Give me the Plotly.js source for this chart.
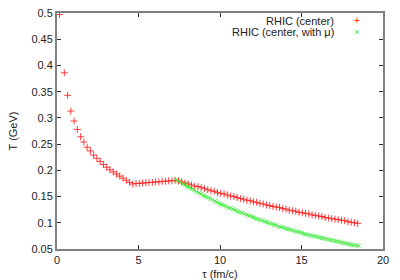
<!DOCTYPE html>
<html>
<head>
<meta charset="utf-8">
<script src="https://cdn.plot.ly/plotly-3.0.1.min.js"></script>
<style>html,body{margin:0;padding:0;background:#fff;}#chart{width:400px;height:280px;}</style>
</head>
<body>
<div id="chart"></div>
<script>
// RHIC (center): tau (fm/c) and T (GeV)
const tauCenter = [0.15, 0.45, 0.65, 0.85, 1.05, 1.25, 1.45, 1.65, 1.85, 2.05, 2.25, 2.45, 2.65, 2.85, 3.05, 3.25, 3.45, 3.65, 3.85, 4.05, 4.25, 4.45, 4.65, 4.85, 5.05, 5.25, 5.45, 5.65, 5.85, 6.05, 6.25, 6.45, 6.65, 6.85, 7.05, 7.25, 7.45, 7.65, 7.85, 8.05, 8.25, 8.45, 8.65, 8.85, 9.05, 9.25, 9.45, 9.65, 9.85, 10.05, 10.25, 10.45, 10.65, 10.85, 11.05, 11.25, 11.45, 11.65, 11.85, 12.05, 12.25, 12.45, 12.65, 12.85, 13.05, 13.25, 13.45, 13.65, 13.85, 14.05, 14.25, 14.45, 14.65, 14.85, 15.05, 15.25, 15.45, 15.65, 15.85, 16.05, 16.25, 16.45, 16.65, 16.85, 17.05, 17.25, 17.45, 17.65, 17.85, 18.05, 18.25, 18.45];
const tempCenter = [0.497, 0.386, 0.343, 0.313, 0.294, 0.278, 0.264, 0.254, 0.244, 0.237, 0.229, 0.223, 0.217, 0.211, 0.206, 0.201, 0.197, 0.193, 0.189, 0.185, 0.181, 0.177, 0.174, 0.175, 0.175, 0.176, 0.176, 0.177, 0.177, 0.178, 0.178, 0.179, 0.179, 0.180, 0.180, 0.181, 0.180, 0.178, 0.176, 0.174, 0.172, 0.170, 0.169, 0.167, 0.165, 0.163, 0.161, 0.160, 0.158, 0.156, 0.155, 0.153, 0.151, 0.150, 0.148, 0.146, 0.145, 0.143, 0.142, 0.140, 0.139, 0.137, 0.136, 0.134, 0.133, 0.131, 0.130, 0.129, 0.127, 0.126, 0.124, 0.123, 0.122, 0.120, 0.119, 0.118, 0.117, 0.115, 0.114, 0.113, 0.112, 0.110, 0.109, 0.108, 0.107, 0.106, 0.105, 0.104, 0.102, 0.101, 0.100, 0.099];

// RHIC (center, with mu)
const tauMu = [7.30, 7.44, 7.58, 7.72, 7.86, 8.00, 8.14, 8.28, 8.42, 8.56, 8.70, 8.84, 8.98, 9.12, 9.26, 9.40, 9.54, 9.68, 9.82, 9.96, 10.10, 10.24, 10.38, 10.52, 10.66, 10.80, 10.94, 11.08, 11.22, 11.36, 11.50, 11.64, 11.78, 11.92, 12.06, 12.20, 12.34, 12.48, 12.62, 12.76, 12.90, 13.04, 13.18, 13.32, 13.46, 13.60, 13.74, 13.88, 14.02, 14.16, 14.30, 14.44, 14.58, 14.72, 14.86, 15.00, 15.14, 15.28, 15.42, 15.56, 15.70, 15.84, 15.98, 16.12, 16.26, 16.40, 16.54, 16.68, 16.82, 16.96, 17.10, 17.24, 17.38, 17.52, 17.66, 17.80, 17.94, 18.08, 18.22, 18.36, 18.50];
const tempMu = [0.182, 0.179, 0.177, 0.174, 0.172, 0.169, 0.167, 0.164, 0.162, 0.159, 0.157, 0.155, 0.152, 0.150, 0.148, 0.146, 0.144, 0.141, 0.139, 0.137, 0.135, 0.133, 0.131, 0.129, 0.128, 0.126, 0.124, 0.122, 0.120, 0.119, 0.117, 0.115, 0.113, 0.112, 0.110, 0.108, 0.107, 0.105, 0.104, 0.102, 0.101, 0.099, 0.098, 0.096, 0.095, 0.093, 0.092, 0.091, 0.089, 0.088, 0.087, 0.086, 0.084, 0.083, 0.082, 0.081, 0.079, 0.078, 0.077, 0.076, 0.075, 0.074, 0.073, 0.072, 0.071, 0.070, 0.069, 0.068, 0.067, 0.066, 0.065, 0.064, 0.063, 0.062, 0.061, 0.060, 0.059, 0.058, 0.057, 0.057, 0.056];

const seriesNames = ['RHIC (center)', 'RHIC (center, with \u03bc)'];
const xTicks = [0, 5, 10, 15, 20];
const yTicks = [0.05, 0.1, 0.15, 0.2, 0.25, 0.3, 0.35, 0.4, 0.45, 0.5];

const font = {family: 'Liberation Sans, Arial, sans-serif', size: 11, color: '#222'};

const traces = [
  {x: tauCenter, y: tempCenter, type: 'scatter', mode: 'markers', name: seriesNames[0],
   marker: {symbol: 'cross-thin-open', size: 5, color: '#ff2020', opacity: 0.85, line: {color: '#ff2020', width: 1}}},
  {x: tauMu, y: tempMu, type: 'scatter', mode: 'markers', name: seriesNames[1],
   marker: {symbol: 'x-thin-open', size: 4, color: '#22ee22', opacity: 0.85, line: {color: '#22ee22', width: 1}}}
];

const axisCommon = {
  showline: true, linecolor: '#808080', linewidth: 2, mirror: 'ticks',
  ticks: 'inside', ticklen: 4, tickwidth: 1, tickcolor: '#333',
  showgrid: false, zeroline: false, tickfont: font
};

const layout = {
  width: 400, height: 280,
  margin: {l: 57, r: 17, t: 13, b: 31, pad: 0},
  paper_bgcolor: '#fff', plot_bgcolor: '#fff',
  font: font,
  showlegend: false,
  xaxis: Object.assign({}, axisCommon, {
    range: [0, 20], tickvals: xTicks, ticktext: xTicks.map(String),
    title: {text: '\u03c4 (fm/c)', font: font, standoff: 8}
  }),
  yaxis: Object.assign({}, axisCommon, {
    range: [0.05, 0.5], tickvals: yTicks, ticktext: yTicks.map(String),
    title: {text: 'T (GeV)', font: font, standoff: 12}
  }),
  annotations: [
    {xref: 'paper', yref: 'paper', x: 0.857, y: 0.967, xanchor: 'right', yanchor: 'middle',
     text: seriesNames[0], showarrow: false, font: font},
    {xref: 'paper', yref: 'paper', x: 0.92, y: 0.967, xanchor: 'center', yanchor: 'middle',
     text: '+', showarrow: false, font: {family: font.family, size: 10, color: '#ff2020'}},
    {xref: 'paper', yref: 'paper', x: 0.857, y: 0.92, xanchor: 'right', yanchor: 'middle',
     text: seriesNames[1], showarrow: false, font: font},
    {xref: 'paper', yref: 'paper', x: 0.92, y: 0.92, xanchor: 'center', yanchor: 'middle',
     text: '\u00d7', showarrow: false, font: {family: font.family, size: 9, color: '#22ee22'}}
  ]
};

Plotly.newPlot('chart', traces, layout, {displayModeBar: false, staticPlot: true});
</script>
</body>
</html>
